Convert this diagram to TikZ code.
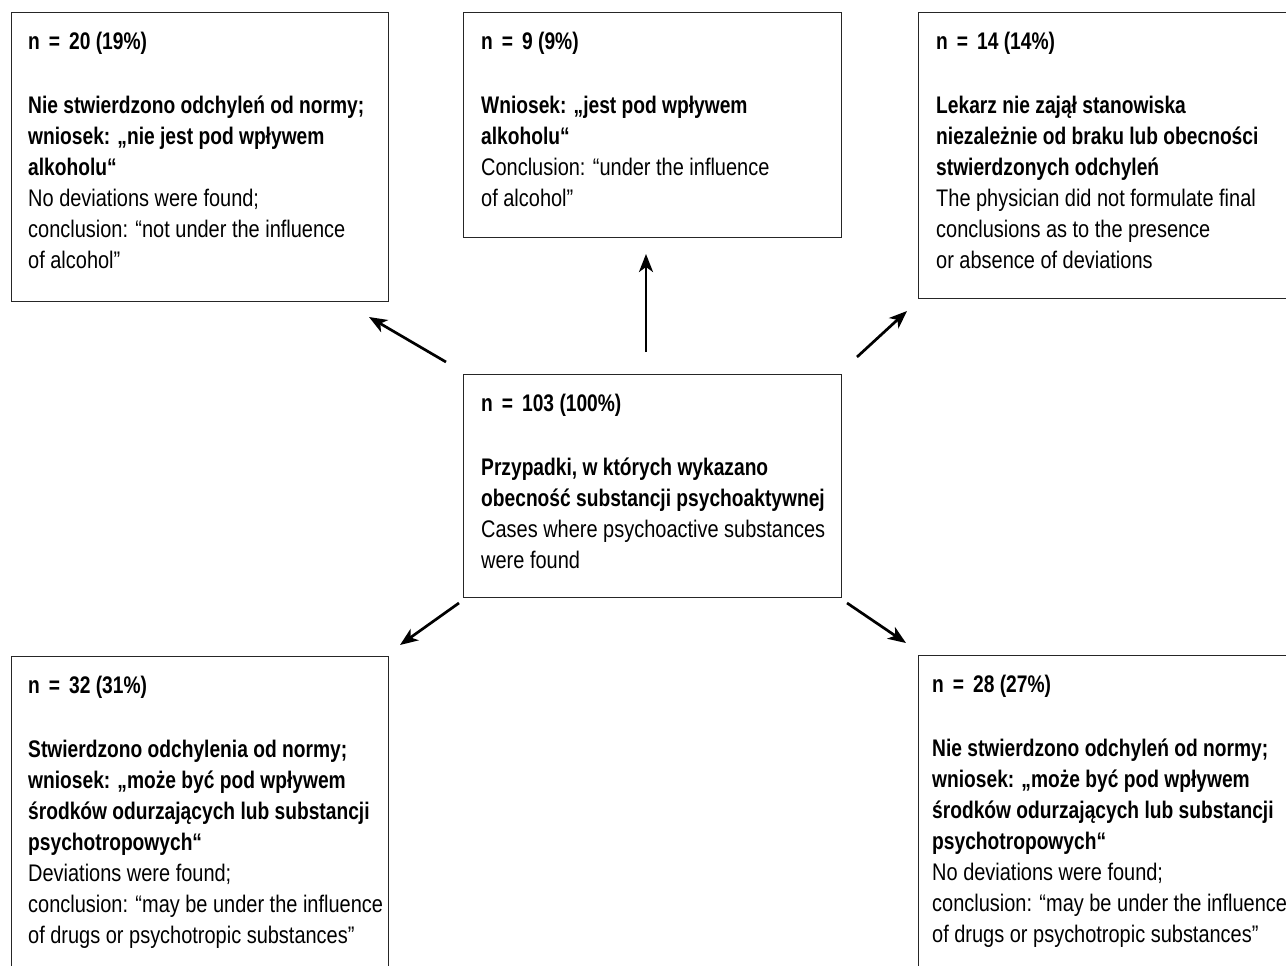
\documentclass[tikz,border=0pt]{standalone}
\usepackage{fontspec}
\setmainfont{Liberation Sans}[FakeStretch=0.832,BoldFeatures={FakeStretch=0.80}]
\usetikzlibrary{arrows.meta}
\begin{document}
\begin{tikzpicture}[x=1pt,y=-1pt,
  box/.style={draw=black!85, line width=1.2pt, rectangle, inner sep=0pt, anchor=north west},
  txt/.style={anchor=north west, inner sep=0pt, align=left, font=\fontsize{24}{31}\selectfont},
  arr/.style={line width=2.7pt, -{Stealth[length=18pt,width=14pt,inset=5pt]}}]
\newcommand{\hd}[1]{\rule{0pt}{20pt}\textbf{n\hspace{9pt}=\hspace{9pt}#1}\\[33pt]}
\clip (0,0) rectangle (1286,966);
\fill[white] (0,0) rectangle (1286,966);
% boxes
\node[box, minimum width=377pt, minimum height=289pt] (tl) at (11,12) {};
\node[box, minimum width=378pt, minimum height=225pt] (tm) at (463,12) {};
\node[box, minimum width=400pt, minimum height=286pt] (tr) at (918,12) {};
\node[box, minimum width=378pt, minimum height=223pt] (c) at (463,374) {};
\node[box, minimum width=377pt, minimum height=340pt] (bl) at (11,656) {};
\node[box, minimum width=400pt, minimum height=340pt] (br) at (918,655) {};
% texts
\node[txt] (tlt) at (28,29) {\hd{20 (19\%)}\textbf{Nie stwierdzono odchyleń od normy;}\\\textbf{wniosek: „nie jest pod wpływem}\\\textbf{alkoholu“}\\No deviations were found;\\conclusion: “not under the influence\\of alcohol”};
\node[txt] (tmt) at (481,29) {\hd{9 (9\%)}\textbf{Wniosek: „jest pod wpływem}\\\textbf{alkoholu“}\\Conclusion: “under the influence\\of alcohol”};
\node[txt] (trt) at (936,29) {\hd{14 (14\%)}\textbf{Lekarz nie zajął stanowiska}\\\textbf{niezależnie od braku lub obecności}\\\textbf{stwierdzonych odchyleń}\\The physician did not formulate final\\conclusions as to the presence\\or absence of deviations};
\node[txt] (ct) at (481,391) {\hd{103 (100\%)}\textbf{Przypadki, w których wykazano}\\\textbf{obecność substancji psychoaktywnej}\\Cases where psychoactive substances\\were found};
\node[txt] (blt) at (28,673) {\hd{32 (31\%)}\textbf{Stwierdzono odchylenia od normy;}\\\textbf{wniosek: „może być pod wpływem}\\\textbf{środków odurzających lub substancji}\\\textbf{psychotropowych“}\\Deviations were found;\\conclusion: “may be under the influence\\of drugs or psychotropic substances”};
\node[txt] (brt) at (932,672) {\hd{28 (27\%)}\textbf{Nie stwierdzono odchyleń od normy;}\\\textbf{wniosek: „może być pod wpływem}\\\textbf{środków odurzających lub substancji}\\\textbf{psychotropowych“}\\No deviations were found;\\conclusion: “may be under the influence\\of drugs or psychotropic substances”};
% arrows
\coordinate (a1s) at (446,362); \coordinate (a1e) at (369,317);
\coordinate (a2s) at (646,352); \coordinate (a2e) at (646,254);
\coordinate (a3s) at (857,357); \coordinate (a3e) at (907,311);
\coordinate (a4s) at (459,603); \coordinate (a4e) at (400,645);
\coordinate (a5s) at (847,603); \coordinate (a5e) at (906,643);
\draw[arr] (a1s) -- (a1e);
\draw[arr] (a2s) -- (a2e);
\draw[arr] (a3s) -- (a3e);
\draw[arr] (a4s) -- (a4e);
\draw[arr] (a5s) -- (a5e);
\end{tikzpicture}
\end{document}
